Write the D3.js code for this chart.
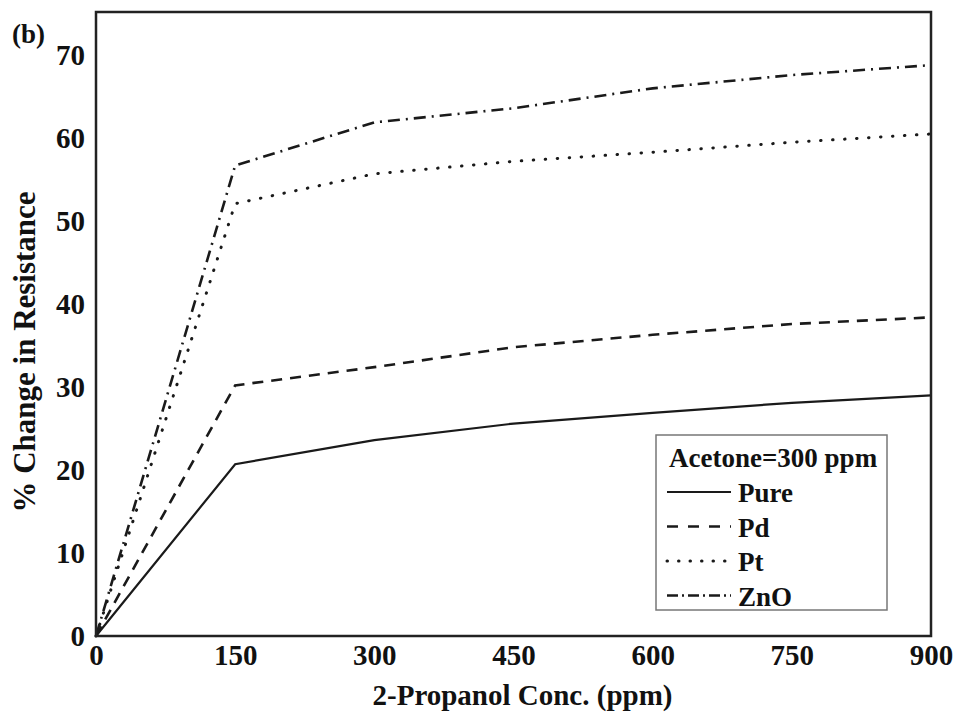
<!DOCTYPE html>
<html>
<head>
<meta charset="utf-8">
<script src="https://cdn.jsdelivr.net/npm/d3@7"></script>
<style>
  body { margin: 0; background: #fff; }
  text { font-family: "Liberation Serif", "Times New Roman", serif; font-weight: bold; fill: #111; }
</style>
</head>
<body>
<div id="chart"></div>
<script>
// data
let conc = [0, 150, 300, 450, 600, 750, 900]
let pure = [0, 20.7, 23.6, 25.6, 26.9, 28.1, 29.0]
let pd = [0, 30.2, 32.4, 34.8, 36.3, 37.6, 38.4]
let pt = [0, 52.1, 55.7, 57.2, 58.3, 59.5, 60.5]
let zno = [0, 56.7, 61.9, 63.6, 66.0, 67.6, 68.8]
let seriesNames = ["Pure", "Pd", "Pt", "ZnO"]
let xTicks = [0, 150, 300, 450, 600, 750, 900]
let yTicks = [0, 10, 20, 30, 40, 50, 60, 70]

let W = 958, H = 715
let margin = { top: 12, right: 27, bottom: 79, left: 96 }

let svg = d3.select("#chart")
    .append("svg")
    .attr("width", W)
    .attr("height", H)

let x = d3.scaleLinear().domain([0, 900]).range([margin.left, W - margin.right])
let y = d3.scaleLinear().domain([0, 75.2]).range([H - margin.bottom, margin.top])

// line looks: plot dash, legend dash
let styles = {
    Pure: { dash: null, legendDash: null, width: 2.2, cap: "butt" },
    Pd: { dash: "11 8", legendDash: "11 10", width: 2.6, cap: "butt" },
    Pt: { dash: "0.5 11.5", legendDash: "0.5 11", width: 3, cap: "round" },
    ZnO: { dash: "12 6 2 6", legendDash: "11 4 2 4", width: 2.6, cap: "butt" }
}

let series = [pure, pd, pt, zno].map((vals, i) => ({
    name: seriesNames[i],
    points: conc.map((c, j) => [c, vals[j]])
}))

let line = d3.line().x(d => x(d[0])).y(d => y(d[1]))

svg.append("g")
    .selectAll("path")
    .data(series)
    .enter()
    .append("path")
    .attr("d", d => line(d.points))
    .attr("fill", "none")
    .attr("stroke", "#1a1a1a")
    .attr("stroke-width", d => styles[d.name].width)
    .attr("stroke-dasharray", d => styles[d.name].dash)
    .attr("stroke-linecap", d => styles[d.name].cap)

// frame
svg.append("rect")
    .attr("x", x(0))
    .attr("y", y(75.2))
    .attr("width", x(900) - x(0))
    .attr("height", y(0) - y(75.2))
    .attr("fill", "none")
    .attr("stroke", "#222")
    .attr("stroke-width", 2.5)

// axes
let xAxis = svg.append("g")
    .attr("transform", `translate(0,${y(0)})`)
    .call(d3.axisBottom(x).tickValues(xTicks).tickSize(0).tickPadding(8))
xAxis.select(".domain").remove()
xAxis.selectAll("text").style("font-size", "29px")

let yAxis = svg.append("g")
    .attr("transform", `translate(${x(0)},0)`)
    .call(d3.axisLeft(y).tickValues(yTicks).tickSize(0).tickPadding(11))
yAxis.select(".domain").remove()
yAxis.selectAll("text").style("font-size", "29px")

svg.append("text")
    .attr("x", (x(0) + x(900)) / 2 + 9)
    .attr("y", 705)
    .attr("text-anchor", "middle")
    .style("font-size", "29px")
    .text("2-Propanol Conc. (ppm)")

svg.append("text")
    .attr("transform", `translate(35,${352}) rotate(-90)`)
    .attr("text-anchor", "middle")
    .style("font-size", "31px")
    .text("% Change in Resistance")

svg.append("text")
    .attr("x", 12)
    .attr("y", 43)
    .style("font-size", "27px")
    .text("(b)")

// legend
let legend = svg.append("g").attr("transform", "translate(656,435)")
legend.append("rect")
    .attr("width", 231)
    .attr("height", 175)
    .attr("fill", "#fff")
    .attr("stroke", "#777")
    .attr("stroke-width", 1.5)
legend.append("text")
    .attr("x", 13)
    .attr("y", 32)
    .style("font-size", "27px")
    .text("Acetone=300 ppm")

let rows = legend.selectAll(".row")
    .data(seriesNames)
    .enter()
    .append("g")
    .attr("class", "row")
    .attr("transform", (d, i) => `translate(0,${57 + i * 34.5})`)
rows.append("line")
    .attr("x1", 11)
    .attr("x2", 75)
    .attr("stroke", "#1a1a1a")
    .attr("stroke-width", d => styles[d].width)
    .attr("stroke-dasharray", d => styles[d].legendDash)
    .attr("stroke-linecap", d => styles[d].cap)
rows.append("text")
    .attr("x", 82)
    .attr("y", 10)
    .style("font-size", "27px")
    .text(d => d)
</script>
</body>
</html>
